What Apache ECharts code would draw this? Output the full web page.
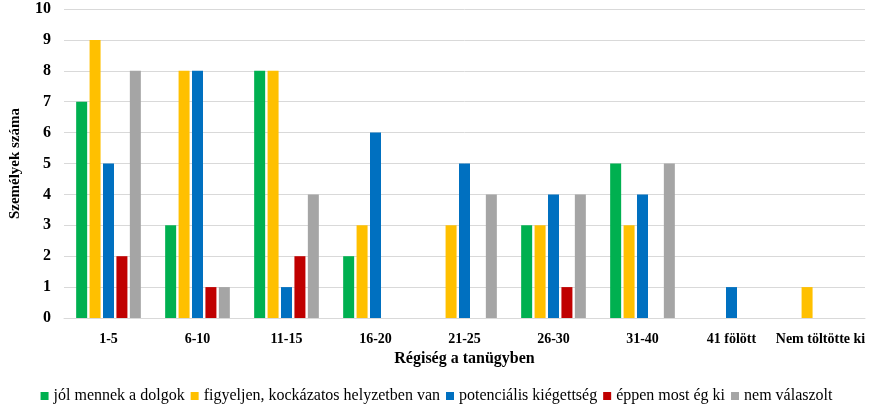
<!DOCTYPE html>
<html><head><meta charset="utf-8">
<script src="https://cdn.jsdelivr.net/npm/echarts@6/dist/echarts.min.js"></script>
<style>html,body{margin:0;padding:0;background:#fff}#c{width:873px;height:407px}</style>
</head><body><div id="c"></div>
<script>
const categories = ['1-5','6-10','11-15','16-20','21-25','26-30','31-40','41 fölött','Nem töltötte ki'];
const seriesNames = ['jól mennek a dolgok','figyeljen, kockázatos helyzetben van','potenciális kiégettség','éppen most ég ki','nem válaszolt'];
const jol = [7,3,8,2,0,3,5,0,0];
const figyeljen = [9,8,8,3,3,3,3,0,1];
const potencialis = [5,8,1,6,5,4,4,1,0];
const eppen = [2,1,2,0,0,1,0,0,0];
const nemValaszolt = [8,1,4,0,4,4,5,0,0];
const colors = ['#00B050','#FFC000','#0070C0','#C00000','#A5A5A5'];
const allData = [jol, figyeljen, potencialis, eppen, nemValaszolt];
const font = 'Liberation Serif';
const chart = echarts.init(document.getElementById('c'));
chart.setOption({
  animation:false,
  textStyle:{fontFamily:font},
  legend:{bottom:3,left:'center',padding:0,itemWidth:8,itemHeight:8,itemGap:6,icon:'rect',
    textStyle:{fontFamily:font,fontSize:16,color:'#000'}},
  grid:{left:63,right:8,top:9,bottom:89},
  xAxis:{type:'category',data:categories,name:'Régiség a tanügyben',nameLocation:'middle',nameGap:31,
    nameTextStyle:{fontFamily:font,fontSize:16,fontWeight:'bold',color:'#000'},
    axisLine:{lineStyle:{color:'#d9d9d9'}},axisTick:{show:false},
    axisLabel:{fontFamily:font,fontSize:14,fontWeight:'bold',color:'#000',margin:14,interval:0}},
  yAxis:{type:'value',min:0,max:10,interval:1,name:'Személyek száma',nameLocation:'middle',nameGap:41,
    nameTextStyle:{fontFamily:font,fontSize:15,fontWeight:'bold',color:'#000'},
    axisLabel:{fontFamily:font,fontSize:16,fontWeight:'bold',color:'#000',margin:13},
    splitLine:{lineStyle:{color:'#d9d9d9'}}},
  series: seriesNames.map((n,i)=>({name:n,type:'bar',data:allData[i],barWidth:11,barGap:'22%',
    itemStyle:{color:colors[i]}}))
});
</script></body></html>
